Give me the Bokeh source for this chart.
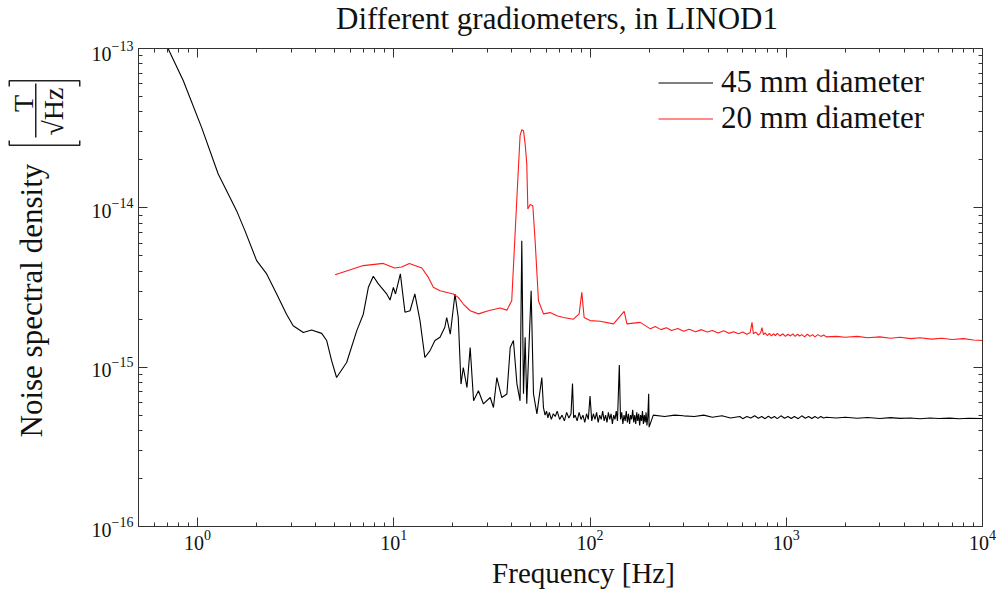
import math
from bokeh.plotting import figure
from bokeh.layouts import row, column
from bokeh.models import (Range1d, LogAxis, Legend, LegendItem, ColumnDataSource,
                          CustomJSTickFormatter)
from bokeh.core.properties import value
from bokeh.embed import file_html
from bokeh.resources import INLINE

FONT = "Liberation Serif"

title_text = "Different gradiometers, in LINOD1"
x_label = "Frequency [Hz]"
y_label = "Noise spectral density"
frac_num = "T"
frac_den = "\u221aHz"
series_names = ["45 mm diameter", "20 mm diameter"]

# 45 mm gradiometer: frequency [Hz] and noise [fT/sqrt(Hz)]
f45 = [0.65, 0.708, 0.845, 1.048, 1.274, 1.406, 1.58, 1.743, 2.0, 2.25, 2.53, 2.84,
       3.07, 3.46, 3.81, 4.29, 4.55, 4.82, 5.11, 5.75, 6.47, 6.99, 7.42, 7.86, 8.34,
       9.2, 9.57, 9.95, 10.2, 10.8, 11.4, 12.1, 12.8, 13.6, 14.4, 15.3, 16.2, 17.2,
       18.2, 18.6, 19.4, 20.5, 21.3, 22.0, 22.6, 23.6, 24.5, 25.5, 27.0, 28.6, 31.0,
       32.2, 33.5, 35.5, 37.7, 39.2, 40.7, 42.4, 44.0, 44.9, 45.8, 46.7, 47.6, 50.1,
       51.5, 53.6, 56.8, 57.9,
       59, 60, 61, 62, 63.5, 65, 66.5, 68, 70, 72, 74, 76, 78, 80, 81.4, 82.5, 84,
       86, 88, 90, 92, 94, 96, 98, 100, 102, 104, 106, 108, 110, 112, 114, 116, 118,
       120, 122, 124, 126, 128, 130, 132, 134, 136, 138, 141, 143, 145, 147, 149,
       151, 153, 155, 157, 159, 161, 163, 165, 167, 169, 171, 173, 175, 177, 179,
       181, 183, 185, 187, 189, 191, 193, 195, 197, 199, 200,
       210, 240, 270, 300, 340, 380, 420, 470, 520, 580, 600, 630, 660, 690, 720,
       750, 780, 810, 840, 870, 900, 940, 980, 1020, 1060, 1100, 1150, 1200, 1250,
       1300, 1350, 1400, 1450, 1500, 1550, 1600, 1800, 2000, 2300, 2600, 3000, 3400,
       3800, 4300, 4800, 5400, 6000, 6800, 7600, 8500, 10000]
n45 = [125, 99.6, 63.0, 32.0, 16.3, 12.8, 9.6, 7.19, 4.66, 3.85, 2.88, 2.15,
       1.82, 1.65, 1.71, 1.63, 1.47, 1.10, 0.861, 1.07, 1.69, 2.15, 3.17, 3.72, 3.33,
       2.88, 2.64, 3.17, 2.88, 3.85, 2.21, 2.26, 2.88, 1.96, 1.15, 1.27, 1.47, 1.54,
       1.78, 2.05, 1.61, 2.88, 2.05, 0.783, 0.995, 0.745, 1.33, 0.615, 0.711, 0.589, 0.645,
       0.558, 0.861, 0.645, 0.678, 1.33, 1.47, 0.786, 0.615, 6.22, 0.681, 1.54, 0.589, 3.02,
       0.681, 0.509, 0.861, 0.558,
       0.50, 0.53, 0.48, 0.52, 0.47, 0.51, 0.49, 0.53, 0.47, 0.50, 0.46, 0.52, 0.48, 0.51,
       0.79, 0.48, 0.50, 0.46, 0.52, 0.47, 0.50, 0.45, 0.51, 0.47, 0.66, 0.46, 0.51, 0.47,
       0.52, 0.45, 0.50, 0.47, 0.53, 0.46, 0.50, 0.45, 0.52, 0.47, 0.51, 0.44, 0.50, 0.47,
       0.53, 0.46, 1.03, 0.47, 0.52, 0.44, 0.50, 0.46, 0.53, 0.45, 0.51, 0.44, 0.50, 0.47,
       0.54, 0.45, 0.50, 0.44, 0.52, 0.46, 0.51, 0.43, 0.50, 0.46, 0.53, 0.44, 0.50, 0.45,
       0.52, 0.43, 0.49, 0.68, 0.42,
       0.50, 0.49, 0.50, 0.495, 0.49, 0.50, 0.485, 0.495, 0.48, 0.49, 0.475, 0.49, 0.48,
       0.495, 0.478, 0.49, 0.475, 0.492, 0.478, 0.49, 0.475, 0.495, 0.478, 0.49, 0.476,
       0.49, 0.475, 0.495, 0.478, 0.49, 0.476, 0.49, 0.477, 0.49, 0.48, 0.485, 0.48,
       0.485, 0.478, 0.483, 0.476, 0.482, 0.477, 0.48, 0.475, 0.48, 0.476, 0.479, 0.474,
       0.478, 0.476]

# 20 mm gradiometer
f20 = [5.02, 6.99, 8.84, 10.1, 10.97, 12.0, 13.9, 15.0, 15.9, 17.2, 20.1, 21.3, 22.6,
       24.5, 27.0, 30.3, 34.8, 37.7, 39.9, 42.4, 44.0, 44.9, 45.8, 46.7, 47.6, 48.2,
       49.5, 51.1, 52.5, 54.6, 57.9, 62.6, 67.8, 73.2, 82.3, 88.0, 90.8, 93.3, 100,
       112.6, 131.7, 149.3, 154.2, 180.3, 203, 215, 230, 245, 260, 280, 300, 320, 345,
       370, 395, 420, 450, 480, 510, 540, 570, 600, 630, 655, 669, 680, 700, 720, 740,
       752, 765, 780, 800, 820, 840, 860, 880, 900, 930, 960, 990, 1020, 1050, 1080,
       1110, 1140, 1170, 1200, 1240, 1280, 1320, 1360, 1400, 1450, 1500, 1550, 1600,
       1800, 2000, 2300, 2600, 3000, 3400, 3800, 4300, 4800, 5500, 6200, 7000, 8000,
       9000, 10000]
n20 = [3.80, 4.34, 4.48, 4.19, 4.25, 4.48, 4.19, 3.66, 3.17, 3.02, 2.88, 2.74, 2.49,
       2.26, 2.16, 2.26, 2.35, 2.28, 2.61, 11.6, 28.4, 30.9, 30.5, 25.2, 18.9, 9.84,
       10.5, 10.3, 6.22, 2.61, 2.16, 2.20, 2.10, 2.05, 2.00, 2.16, 2.95, 2.05, 1.96,
       1.94, 1.87, 2.24, 1.87, 1.91, 1.74, 1.80, 1.72, 1.77, 1.70, 1.75, 1.68, 1.73, 1.67,
       1.72, 1.66, 1.70, 1.64, 1.69, 1.63, 1.67, 1.62, 1.66, 1.61, 1.65, 1.91, 1.62, 1.66,
       1.59, 1.64, 1.77, 1.60, 1.64, 1.58, 1.63, 1.57, 1.62, 1.58, 1.63, 1.57, 1.62, 1.56,
       1.61, 1.57, 1.62, 1.56, 1.61, 1.57, 1.60, 1.55, 1.61, 1.56, 1.60, 1.55, 1.60, 1.56,
       1.59, 1.55, 1.56, 1.54, 1.56, 1.53, 1.55, 1.52, 1.54, 1.51, 1.53, 1.50, 1.52, 1.49,
       1.51, 1.48, 1.47]

UNIT = 1e-15  # fT/sqrt(Hz) -> T/sqrt(Hz)
INK = "#111111"
W, H = 1005, 592
FL, FR, FT, FB = 138, 982, 48, 526     # frame edges on the page
TITLE_H = 40                           # strip above the plot row
XLAB_TOP = 556                         # strip below the plot row
LEFT_W = 82                            # y-label strip width
ROW_H = XLAB_TOP - TITLE_H


def text_canvas(width, height, x0, x1, y0, y1, bl, br, bt, bb):
    f = figure(width=width, height=height, x_range=Range1d(x0, x1),
               y_range=Range1d(y0, y1), x_axis_location=None, y_axis_location=None,
               output_backend="svg", toolbar_location=None, title=None,
               min_border_left=bl, min_border_right=br, min_border_top=bt,
               min_border_bottom=bb)
    f.outline_line_color = None
    f.xgrid.visible = False
    f.ygrid.visible = False
    f.border_fill_color = "white"
    f.background_fill_color = "white"
    return f

# data y in these strips = H - page_y, data x = page x (text anchored at its middle)
tp = text_canvas(W, TITLE_H, FL, FR, H - TITLE_H, H, FL, W - FR, 0, 0)
tp.text(x=[556.5], y=[H - 17.5], text=[title_text], text_font=value(FONT),
        text_font_size=value("31px"), text_color=INK, text_align="center",
        text_baseline="middle")

xp = text_canvas(W, H - XLAB_TOP, FL, FR, 0, H - XLAB_TOP, FL, W - FR, 0, 0)
xp.text(x=[583], y=[H - 572.3], text=[x_label], text_font=value(FONT),
        text_font_size=value("29px"), text_color=INK, text_align="center",
        text_baseline="middle")

lp = text_canvas(LEFT_W, ROW_H, 0, LEFT_W, H - FB, H - FT, 0, 0,
                 FT - TITLE_H, XLAB_TOP - FB)
lp.text(x=[31], y=[H - 437], text=[y_label], angle=math.pi / 2,
        text_font=value(FONT), text_font_size=value("31px"), text_color=INK,
        text_align="left", text_baseline="middle")
lp.text(x=[23], y=[H - 103], text=[frac_num], angle=math.pi / 2,
        text_font=value(FONT), text_font_size=value("28px"), text_color=INK,
        text_align="center", text_baseline="middle")
lp.text(x=[52.5], y=[H - 111], text=[frac_den], angle=math.pi / 2,
        text_font=value(FONT), text_font_size=value("28px"), text_color=INK,
        text_align="center", text_baseline="middle")
lp.multi_line(xs=[[35.25, 35.25],
                  [8.75, 8.75, 79.25, 79.25],
                  [8.75, 8.75, 79.25, 79.25]],
              ys=[[H - 137, H - 83],
                  [H - 140, H - 144.75, H - 144.75, H - 140],
                  [H - 86, H - 80.25, H - 80.25, H - 86]],
              line_color="#222222", line_width=1.5)

# ---------------- main plot ----------------
p = figure(width=W - LEFT_W, height=ROW_H, x_axis_type="log", y_axis_type="log",
           x_range=Range1d(0.5, 1e4), y_range=Range1d(1e-16, 1e-13),
           output_backend="svg", toolbar_location=None, title=None,
           min_border_left=FL - LEFT_W, min_border_right=W - FR,
           min_border_top=FT - TITLE_H, min_border_bottom=XLAB_TOP - FB)
p.xgrid.visible = False
p.ygrid.visible = False
p.outline_line_color = "#333333"
p.background_fill_color = "white"
p.border_fill_color = "white"

src45 = ColumnDataSource(dict(f=f45, n=[v * UNIT for v in n45]))
src20 = ColumnDataSource(dict(f=f20, n=[v * UNIT for v in n20]))
r45 = p.line("f", "n", source=src45, line_color="black", line_width=1.1)
r20 = p.line("f", "n", source=src20, line_color="#ff1a1a", line_width=1.1)

blank = CustomJSTickFormatter(code="return ' '")
p.add_layout(LogAxis(formatter=blank, major_label_standoff=0,
                     major_label_text_font_size="1px"), "above")
p.add_layout(LogAxis(formatter=blank, major_label_standoff=0,
                     major_label_text_font_size="1px"), "right")

for ax in p.axis:
    ax.ticker.num_minor_ticks = 10
    ax.major_tick_in = 9
    ax.major_tick_out = 0
    ax.minor_tick_in = 4
    ax.minor_tick_out = 0
    ax.axis_line_color = "#333333"
    ax.major_tick_line_color = "#333333"
    ax.minor_tick_line_color = "#333333"
    ax.major_label_text_font = FONT
    ax.major_label_text_color = INK

xb = p.below[0]
yl = p.left[0]
for ax in (xb, yl):
    ax.major_label_text_font_size = "20px"
xb.major_label_standoff = 3
yl.major_label_standoff = 5

legend = Legend(items=[LegendItem(label=series_names[0], renderers=[r45]),
                       LegendItem(label=series_names[1], renderers=[r20])],
                location=(520, 390), label_text_font=FONT, label_text_font_size="31px",
                label_text_color=INK,
                glyph_width=55, glyph_height=35, label_height=35, label_standoff=8,
                spacing=0, padding=0, margin=0, border_line_color=None,
                background_fill_alpha=0)
p.add_layout(legend)

layout = column(tp, row(lp, p, spacing=0), xp, spacing=0)
open("out.html", "w").write(file_html(layout, INLINE))
